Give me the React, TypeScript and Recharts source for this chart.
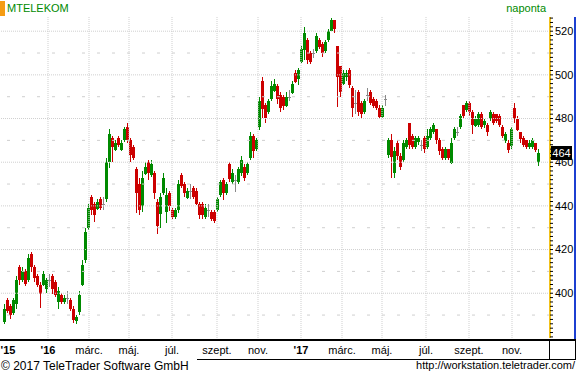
import React from 'react';
import { ComposedChart, Bar, XAxis, YAxis, ReferenceLine } from 'recharts';

// ---- data (one candle per 3 trading days, Nov 2015 – Dec 2017) ----
const opens = [
  387, 397, 394, 391, 395, 412, 406, 410, 406, 418, 412, 408, 404, 404, 402, 406, 408, 405, 396, 399,
  396, 398, 397, 393, 387, 391, 404, 415, 430, 444, 441, 439, 443, 441, 443, 460, 471, 466, 471, 466,
  470, 476, 470, 467, 457, 450, 440, 455, 460, 454, 455, 442, 436, 446, 437, 446, 438, 435, 438, 454,
  450, 444, 447, 448, 447, 441, 441, 435, 438, 437, 437, 438, 445, 452, 446, 459, 451, 452, 451, 455,
  458, 455, 462, 472, 466, 476, 497, 486, 483, 489, 493, 495, 491, 490, 486, 490, 492, 501, 498, 506,
  511, 516, 510, 510, 511, 516, 514, 511, 516, 520, 525, 513, 504, 496, 499, 502, 494, 487, 492, 487,
  483, 491, 492, 489, 488, 485, 481, 489, 463, 470, 455, 469, 463, 461, 467, 478, 472, 467, 469, 468,
  471, 467, 471, 474, 475, 470, 466, 462, 466, 460, 471, 474, 476, 486, 484, 487, 483, 477, 477, 482,
  477, 477, 480, 482, 482, 481, 476, 470, 469, 467, 485, 480, 474, 471, 470, 467, 467, 469, 460,
];
const highs = [
  395, 398, 395, 398, 408, 413, 412, 411, 418, 419, 413, 409, 405, 410, 407, 409, 409, 406, 403, 400,
  399, 401, 398, 394, 390, 401, 415, 430, 441, 445, 442, 443, 444, 444, 462, 475, 472, 470, 472, 470,
  476, 478, 471, 468, 458, 453, 456, 460, 461, 461, 456, 443, 446, 455, 448, 447, 439, 439, 452, 455,
  451, 448, 450, 449, 448, 442, 442, 441, 441, 438, 438, 444, 452, 453, 451, 460, 457, 454, 458, 463,
  459, 460, 474, 473, 471, 490, 499, 487, 489, 497, 498, 496, 492, 491, 492, 493, 497, 502, 503, 513,
  522, 517, 511, 512, 519, 517, 515, 516, 521, 526, 525, 513, 504, 502, 502, 503, 495, 493, 493, 488,
  489, 494, 493, 490, 489, 486, 486, 491, 471, 473, 467, 470, 464, 470, 471, 478, 473, 472, 472, 470,
  472, 475, 476, 478, 475, 471, 467, 467, 466, 471, 476, 476, 482, 486, 488, 488, 484, 481, 483, 483,
  480, 478, 484, 483, 482, 482, 477, 474, 470, 476, 487, 481, 474, 472, 470, 470, 471, 469, 466,
];
const lows = [
  386, 391, 388, 390, 393, 404, 405, 403, 405, 410, 405, 403, 393, 403, 400, 403, 400, 398, 393, 395,
  395, 395, 392, 386, 386, 390, 403, 414, 429, 436, 433, 438, 438, 438, 442, 457, 460, 465, 467, 465,
  469, 469, 460, 461, 437, 436, 437, 454, 452, 453, 443, 427, 430, 445, 432, 438, 434, 434, 437, 448,
  444, 443, 443, 443, 440, 434, 434, 434, 435, 433, 432, 437, 444, 443, 445, 451, 450, 446, 450, 454,
  451, 454, 461, 462, 465, 475, 480, 478, 482, 488, 492, 487, 483, 484, 485, 488, 491, 496, 495, 505,
  507, 505, 505, 508, 510, 512, 508, 510, 515, 520, 519, 485, 490, 495, 497, 494, 481, 482, 481, 480,
  482, 488, 486, 485, 484, 480, 480, 486, 462, 453, 453, 461, 456, 460, 466, 466, 466, 466, 468, 465,
  464, 466, 470, 473, 468, 463, 461, 461, 461, 459, 470, 472, 475, 480, 483, 481, 473, 476, 476, 475,
  476, 472, 479, 477, 478, 476, 471, 469, 464, 466, 478, 474, 469, 467, 466, 466, 466, 465, 458,
];
const closes = [
  393, 392, 390, 397, 406, 406, 410, 404, 416, 412, 407, 404, 400, 409, 406, 406, 402, 399, 401, 396,
  398, 398, 393, 388, 389, 399, 413, 428, 439, 438, 436, 442, 439, 441, 460, 473, 467, 469, 468, 469,
  475, 470, 463, 462, 446, 438, 453, 458, 455, 459, 446, 431, 444, 453, 445, 440, 435, 438, 450, 449,
  446, 447, 447, 444, 441, 436, 436, 439, 438, 434, 433, 443, 451, 446, 450, 452, 455, 452, 457, 461,
  453, 459, 472, 465, 470, 488, 484, 480, 488, 495, 496, 489, 485, 486, 490, 490, 496, 497, 502, 512,
  519, 507, 506, 510, 518, 513, 510, 515, 520, 525, 521, 499, 492, 501, 501, 495, 485, 487, 483, 482,
  488, 491, 487, 486, 485, 481, 485, 489, 470, 462, 465, 463, 458, 469, 470, 468, 467, 471, 471, 468,
  466, 472, 475, 477, 470, 465, 462, 466, 462, 469, 475, 474, 481, 481, 487, 483, 477, 480, 482, 476,
  479, 474, 483, 478, 479, 477, 472, 473, 466, 475, 480, 475, 471, 468, 467, 469, 470, 466, 464,
];

// trading-day index of each labelled month start
const tickDays = [3, 43, 84, 124, 167, 212, 253, 296, 337, 377, 421, 464, 507];
const tickLabels = ["'15", "'16", 'márc.', 'máj.', 'júl.', 'szept.', 'nov.', "'17", 'márc.', 'máj.', 'júl.', 'szept.', 'nov.'];
const yearLabels = ["'15", "'16", "'17"];
const priceGrid = [400, 420, 440, 460, 480, 500, 520];
const priceMidGrid = [390, 410, 430, 450, 470, 490, 510];

const DAY_STEP = 3;
const Y_DOMAIN: [number, number] = [379.5, 526.5];
const X_DOMAIN: [number, number] = [-4, 545];

const GREEN = '#008a00';
const RED = '#cc0000';
const GREY = '#8a8a8a';
const YELLOW = '#f2c21b';
const BLUE = '#1c3fd1';
const GRID = '#cfcfcf';
const FONT = '"Liberation Sans", Arial, sans-serif';

const data = closes.map((c, i) => ({
  t: i * DAY_STEP,
  open: opens[i],
  high: highs[i],
  low: lows[i],
  close: c,
  range: [lows[i], highs[i]],
}));

const rightTicks: number[] = [];
for (let v = 380; v <= 526; v += 2) rightTicks.push(v);
const leftTicks: number[] = [];
for (let v = 380; v <= 525; v += 5) leftTicks.push(v);

const lastClose = closes[closes.length - 1];

function Candle(props: any) {
  const { x, y, width, height, payload } = props;
  if (x == null || y == null || !payload) return null;
  const { open, close, high, low } = payload;
  const ppu = high > low ? height / (high - low) : 0;
  const cx = Math.round(x + width / 2 - 0.5);
  const yO = y + (high - open) * ppu;
  const yC = y + (high - close) * ppu;
  const color = close > open ? GREEN : close < open ? RED : GREY;
  const top = Math.round(Math.min(yO, yC));
  const bh = Math.max(1, Math.round(Math.abs(yO - yC)));
  return (
    <g shapeRendering="crispEdges">
      <rect x={cx} y={Math.round(y)} width={1} height={Math.max(1, Math.round(height))} fill={color} />
      <rect x={cx - 1} y={top} width={3} height={bh} fill={color} />
    </g>
  );
}

function XTick(props: any) {
  const { x, y, payload } = props;
  const idx = tickDays.indexOf(payload.value);
  const label = idx >= 0 ? tickLabels[idx] : '';
  const bold = yearLabels.includes(label);
  return (
    <text x={x} y={y} dy="0.71em" textAnchor="middle" fontSize={11} fontFamily={FONT}
      fontWeight={bold ? 700 : 400} fill="#000">
      {label}
    </text>
  );
}

function LastPriceTag(props: any) {
  const { viewBox } = props;
  if (!viewBox) return null;
  const x = viewBox.x + viewBox.width + 1;
  const y = viewBox.y;
  return (
    <g>
      <rect x={x} y={Math.round(y - 7)} width={21} height={14} fill="#000" />
      <text x={x + 10.5} y={y} dy="0.36em" textAnchor="middle" fill="#fff" fontSize={11} fontFamily={FONT}>
        {lastClose}
      </text>
    </g>
  );
}

export default function App() {
  return (
    <div style={{ position: 'absolute', left: 0, top: 0, width: 576, height: 376, background: '#fff', overflow: 'hidden', fontFamily: FONT }}>
      <div style={{ position: 'absolute', left: 0, top: 1, width: 5, height: 15, background: '#f59c14' }} />
      <div style={{ position: 'absolute', left: 7, top: 2, fontSize: 11, lineHeight: '13px', color: GREEN }}>MTELEKOM</div>
      <div style={{ position: 'absolute', right: 30, top: 2, fontSize: 11, lineHeight: '13px', color: GREEN }}>naponta</div>

      <div style={{ position: 'absolute', left: 0, top: 0 }}>
        <ComposedChart width={576} height={376} data={data} margin={{ top: 17, right: 2, bottom: 18, left: 1 }}>
          <XAxis dataKey="t" type="number" domain={X_DOMAIN} allowDataOverflow ticks={tickDays} interval={0}
            height={20} tickSize={0} tickMargin={8} axisLine={false} tickLine={false} tick={<XTick />} />
          <YAxis yAxisId="l" orientation="left" type="number" width={0} mirror domain={Y_DOMAIN} allowDataOverflow
            ticks={leftTicks} interval={0} tick={false} tickSize={4}
            axisLine={{ stroke: '#000', strokeWidth: 2 }} tickLine={{ stroke: '#000' }} />
          <YAxis yAxisId="p" orientation="right" type="number" width={24} domain={Y_DOMAIN} allowDataOverflow
            ticks={rightTicks} interval={0} tickSize={3} tickMargin={2}
            tickFormatter={(v: number) => (priceGrid.includes(v) ? String(v) : '')}
            axisLine={{ stroke: YELLOW, strokeWidth: 2 }} tickLine={{ stroke: '#000' }}
            tick={{ fontSize: 11, fill: '#000', fontFamily: FONT }} />
          {priceGrid.map((v) => (
            <ReferenceLine key={'g' + v} yAxisId="p" y={v} stroke={GRID} strokeDasharray="1 1" />
          ))}
          {priceMidGrid.map((v) => (
            <ReferenceLine key={'m' + v} yAxisId="p" y={v} stroke={GRID} strokeDasharray="3 12" />
          ))}
          {tickDays.slice(1).map((d) => (
            <ReferenceLine key={'x' + d} yAxisId="p" x={d} stroke={GRID} strokeDasharray="1 1" />
          ))}
          <Bar yAxisId="p" dataKey="range" isAnimationActive={false} barSize={3}
            shape={(p: any) => <Candle {...p} />} />
          <ReferenceLine yAxisId="p" y={lastClose} stroke="none" label={<LastPriceTag />} />
        </ComposedChart>
      </div>

      <div style={{ position: 'absolute', left: 574, top: 17, width: 2, height: 322, background: BLUE }} />
      <div style={{ position: 'absolute', left: 0, top: 339, width: 576, height: 2, background: '#000' }} />
      <div style={{ position: 'absolute', left: 549, top: 341, width: 1, height: 18, background: '#000' }} />
      <div style={{ position: 'absolute', left: 575, top: 341, width: 1, height: 18, background: '#000' }} />
      <div style={{ position: 'absolute', left: 197, top: 359, width: 379, height: 1, background: '#000' }} />
      <div style={{ position: 'absolute', left: 1, top: 359, fontSize: 12, lineHeight: '14px', color: '#000' }}>© 2017 TeleTrader Software GmbH</div>
      <div style={{ position: 'absolute', right: 1, top: 359, fontSize: 11, lineHeight: '13px', color: '#000' }}>http://workstation.teletrader.com/</div>
    </div>
  );
}
